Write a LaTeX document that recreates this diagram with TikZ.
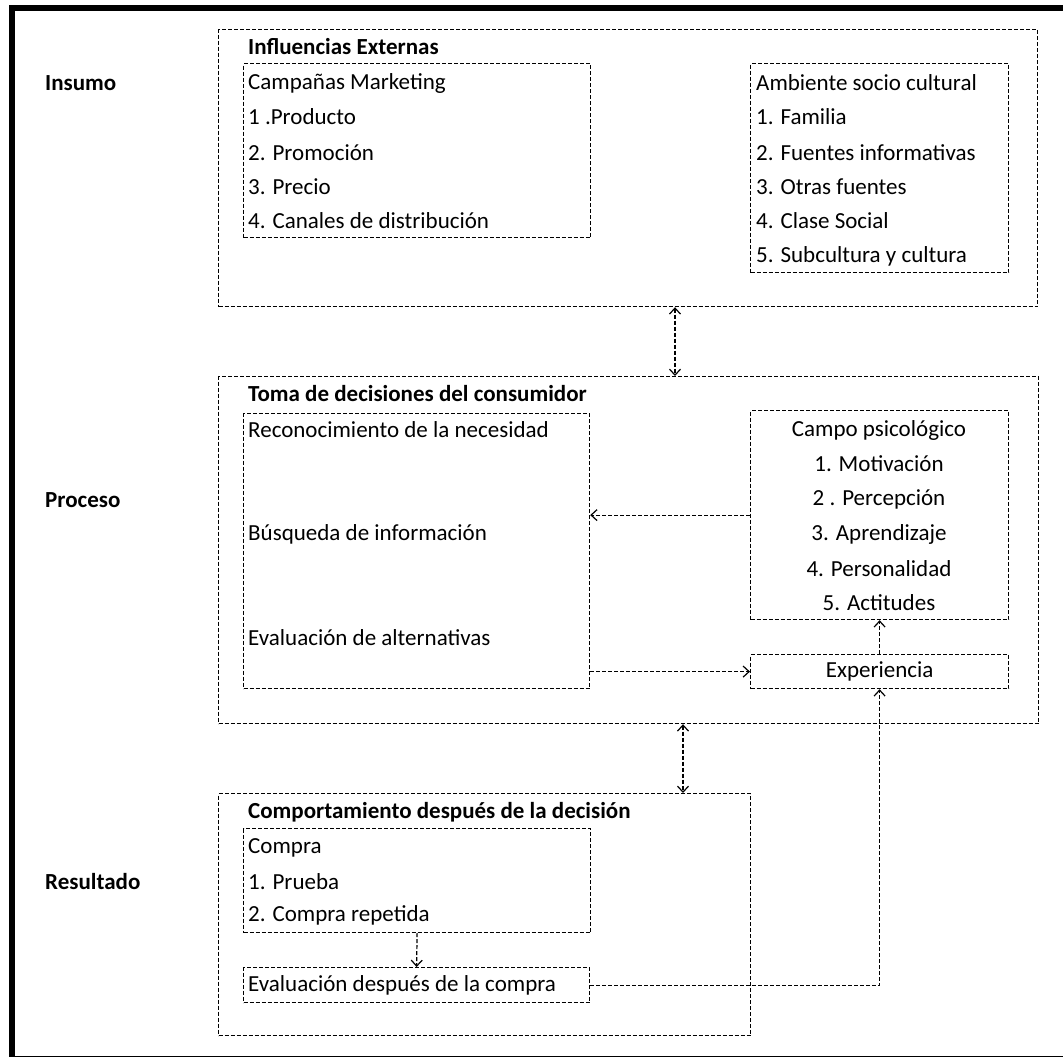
\documentclass[tikz,border=0pt]{standalone}
\usepackage{fontspec}
\setmainfont{Carlito}
\usetikzlibrary{arrows.meta}

\tikzset{
  caja/.style={draw, rectangle, punteado, anchor=north west, inner sep=0pt},
  punteado/.style={dash pattern=on 4pt off 2pt, line width=1.2pt},
  texto/.style={anchor=west, inner sep=0pt, font=\fontsize{23}{27}\selectfont},
  centrado/.style={anchor=center, inner sep=0pt, font=\fontsize{23}{27}\selectfont},
  titulo/.style={texto, font=\fontsize{23}{27}\selectfont\bfseries},
  flecha/.style={punteado},
}

\begin{document}
\begin{tikzpicture}[x=1pt, y=-1pt, >={Straight Barb[length=6pt, width=11pt]}]
    \useasboundingbox (0,0) rectangle (1063,1057);
    \clip (0,0) rectangle (1063,1057);
    \draw[line width=6pt] (12,8) rectangle (1080,1059);

    \node (insumo) [titulo] at (45,83) {Insumo};
    \node (proceso) [titulo] at (45,500) {Proceso};
    \node (resultado) [titulo] at (45,882) {Resultado};

    \node (influencias) [caja, minimum width=819pt, minimum height=277pt] at (218,29) {};
    \node (tinfluencias) [titulo] at (248,47) {Influencias Externas};
    \node (campanas) [caja, minimum width=347pt, minimum height=174pt] at (243,63) {};
    \node (c0) [texto] at (248,83) {Campañas Marketing};
    \node (c1) [texto] at (248,117) {1 .Producto};
    \node (c2) [texto] at (248,153) {2. Promoción};
    \node (c3) [texto] at (248,187) {3. Precio};
    \node (c4) [texto] at (248,221) {4. Canales de distribución};
    \node (ambiente) [caja, minimum width=258pt, minimum height=209pt] at (750,63) {};
    \node (a0) [texto] at (756,83) {Ambiente socio cultural};
    \node (a1) [texto] at (756,117) {1. Familia};
    \node (a2) [texto] at (756,153) {2. Fuentes informativas};
    \node (a3) [texto] at (756,187) {3. Otras fuentes};
    \node (a4) [texto] at (756,221) {4. Clase Social};
    \node (a5) [texto] at (756,256) {5. Subcultura y cultura};

    \node (toma) [caja, minimum width=820pt, minimum height=347pt] at (218,376) {};
    \node (ttoma) [titulo] at (248,394) {Toma de decisiones del consumidor};
    \node (izq) [caja, minimum width=346pt, minimum height=275pt] at (243,413) {};
    \node (p1) [texto] at (248,430) {Reconocimiento de la necesidad};
    \node (p2) [texto] at (248,534) {Búsqueda de información};
    \node (p3) [texto] at (248,638) {Evaluación de alternativas};
    \node (campo) [caja, minimum width=258pt, minimum height=209pt] at (750,410) {};
    \node (m0) [centrado] at (879,430) {Campo psicológico};
    \node (m1) [centrado] at (879,464) {1. Motivación};
    \node (m2) [centrado] at (879,499) {2 . Percepción};
    \node (m3) [centrado] at (879,534) {3. Aprendizaje};
    \node (m4) [centrado] at (879,569) {4. Personalidad};
    \node (m5) [centrado] at (879,603) {5. Actitudes};
    \node (experiencia) [caja, minimum width=258pt, minimum height=34pt] at (750,654) {};
    \node (texperiencia) [centrado] at (experiencia.center) {Experiencia};

    \node (comportamiento) [caja, minimum width=532pt, minimum height=242pt] at (218,793) {};
    \node (tcomportamiento) [titulo] at (248,812) {Comportamiento después de la decisión};
    \node (compra) [caja, minimum width=347pt, minimum height=104pt] at (243,828) {};
    \node (r0) [texto] at (248,848) {Compra};
    \node (r1) [texto] at (248,882) {1. Prueba};
    \node (r2) [texto] at (248,915) {2. Compra repetida};
    \node (evaldesp) [caja, minimum width=346pt, minimum height=35pt] at (243,967) {};
    \node (tevaldesp) [texto] at (248,985) {Evaluación después de la compra};

    \coordinate (eje1) at (675,0);
    \coordinate (eje2) at (683,0);
    \draw[flecha, <->] (influencias.south -| eje1) -- (toma.north -| eje1);
    \draw[flecha, <->] (toma.south -| eje2) -- (comportamiento.north -| eje2);
    \draw[flecha, ->] (campo.west) -- (campo.west -| izq.east);
    \draw[flecha, ->] (experiencia.west -| izq.east) -- (experiencia.west);
    \draw[flecha, ->] (experiencia.north) -- (campo.south);
    \draw[flecha, ->] (evaldesp.east) -| (experiencia.south);
    \draw[flecha, ->] (compra.south) -- (evaldesp.north);
\end{tikzpicture}
\end{document}
